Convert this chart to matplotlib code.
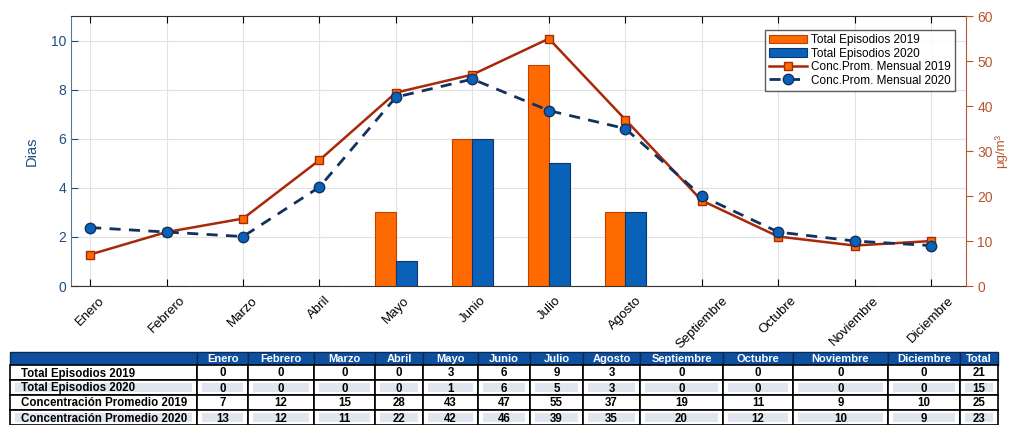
import numpy as np
import matplotlib.pyplot as plt
from matplotlib.patches import Rectangle

plt.rcParams['font.family'] = ['Liberation Sans', 'DejaVu Sans']

meses = ['Enero', 'Febrero', 'Marzo', 'Abril', 'Mayo', 'Junio', 'Julio',
         'Agosto', 'Septiembre', 'Octubre', 'Noviembre', 'Diciembre']
ep_2019 = [0, 0, 0, 0, 3, 6, 9, 3, 0, 0, 0, 0]
ep_2020 = [0, 0, 0, 0, 1, 6, 5, 3, 0, 0, 0, 0]
conc_2019 = [7, 12, 15, 28, 43, 47, 55, 37, 19, 11, 9, 10]
conc_2020 = [13, 12, 11, 22, 42, 46, 39, 35, 20, 12, 10, 9]
filas = ['Total Episodios 2019', 'Total Episodios 2020',
         'Concentración Promedio 2019', 'Concentración Promedio 2020']
totales = [21, 15, 25, 23]

c_or = '#ff6a00'
c_bl = '#0a62b8'
c_red = '#a8280a'
c_navy = '#13315e'
c_left = '#1f4e80'
c_right = '#b5562e'

fig = plt.figure(figsize=(10.1, 4.25), dpi=100)

# tabla en coordenadas de pixel de la figura
axt = fig.add_axes([0, 0, 1, 1])
axt.set_xlim(0, 1010)
axt.set_ylim(425, 0)
axt.axis('off')
edges = [10, 197, 248, 314, 375, 423, 478, 530, 583, 640, 723, 793, 888, 960, 998]
row_y = [352, 365, 380, 395, 410, 425]
hdr = [''] + meses + ['Total']
for j in range(len(hdr)):
    x0, x1 = edges[j], edges[j + 1]
    axt.add_patch(Rectangle((x0, row_y[0]), x1 - x0, row_y[1] - row_y[0],
                            facecolor='#0e50a0', edgecolor='#0a2850', lw=1))
    if hdr[j]:
        axt.text((x0 + x1) / 2, (row_y[0] + row_y[1]) / 2 + 0.5, hdr[j], color='white',
                 fontsize=8, fontweight='bold', ha='center', va='center')
tabla = [ep_2019, ep_2020, conc_2019, conc_2020]
for i in range(4):
    y0, y1 = row_y[i + 1], row_y[i + 1] + 15
    vals = [filas[i]] + [str(v) for v in tabla[i]] + [str(totales[i])]
    for j in range(len(vals)):
        x0, x1 = edges[j], edges[j + 1]
        axt.add_patch(Rectangle((x0, y0), x1 - x0, y1 - y0, facecolor='white',
                                edgecolor='black', lw=1.2))
        if i % 2 == 1:
            axt.add_patch(Rectangle((x0 + 5, y0 + 3), x1 - x0 - 10, y1 - y0 - 6,
                                    facecolor='#dfe6ef', edgecolor='none'))
        if j == 0:
            axt.text(x0 + 11, (y0 + y1) / 2 + 1, vals[j], fontsize=8.3,
                     fontweight='bold', ha='left', va='center')
        else:
            axt.text((x0 + x1) / 2, (y0 + y1) / 2 + 1, vals[j], fontsize=8.3,
                     fontweight='bold', ha='center', va='center')

# grafico principal
ax = fig.add_axes([0.0703, 0.327, 0.8857, 0.635])
x = np.arange(len(meses))
w = 0.27
b1 = ax.bar(x - w / 2, ep_2019, w, color=c_or, edgecolor='#c04000', lw=0.8,
            label='Total Episodios 2019', zorder=3)
b2 = ax.bar(x + w / 2, ep_2020, w, color=c_bl, edgecolor='#0a3570', lw=0.8,
            label='Total Episodios 2020', zorder=3)
ax.set_ylim(0, 11)
ax.set_xlim(-0.25, 11.45)
ax.set_yticks([0, 2, 4, 6, 8, 10])
ax.set_xticks(x)
ax.set_xticklabels(meses, rotation=45, ha='center', fontsize=9.5, color='black')
ax.tick_params(axis='x', direction='in', top=True, length=5, pad=6)
ax.tick_params(axis='y', direction='in', length=5, colors=c_left, labelsize=10)
ax.set_ylabel('Dias', color=c_left, fontsize=10.5, labelpad=9)
ax.grid(True, color='#e2e2e2', lw=0.8, zorder=0)
ax.spines['left'].set_color('#5a7896')
ax.spines['top'].set_color('#333333')
ax.spines['bottom'].set_color('#333333')
ax.spines['right'].set_visible(False)

ax2 = ax.twinx()
l1, = ax2.plot(x, conc_2019, '-s', color=c_red, lw=1.8, ms=5.5, mfc=c_or,
               mec=c_red, mew=1, label='Conc.Prom. Mensual 2019', zorder=4)
l2, = ax2.plot(x, conc_2020, '--o', color=c_navy, lw=2, ms=7.5, mfc=c_bl,
               mec=c_navy, mew=1, dashes=(4, 3), label='Conc.Prom. Mensual 2020',
               zorder=4)
ax2.set_ylim(0, 60)
ax2.set_yticks(range(0, 61, 10))
ax2.tick_params(axis='y', direction='out', length=5, colors=c_right, labelsize=10)
ax2.spines['right'].set_color(c_right)
for s in ['left', 'top', 'bottom']:
    ax2.spines[s].set_visible(False)
ax2.set_ylabel('μg/m³', color=c_right, fontsize=9.5, labelpad=1)

leg = ax2.legend([b1, b2, l1, l2], [h.get_label() for h in [b1, b2, l1, l2]],
                 loc='upper right', bbox_to_anchor=(0.995, 0.97), fontsize=8.5,
                 frameon=True, fancybox=False, handlelength=3.2, borderpad=0.35,
                 labelspacing=0.12, handletextpad=0.4)
leg.get_frame().set_edgecolor('#333333')
leg.get_frame().set_linewidth(1)

fig.savefig('out.png', dpi=100)
